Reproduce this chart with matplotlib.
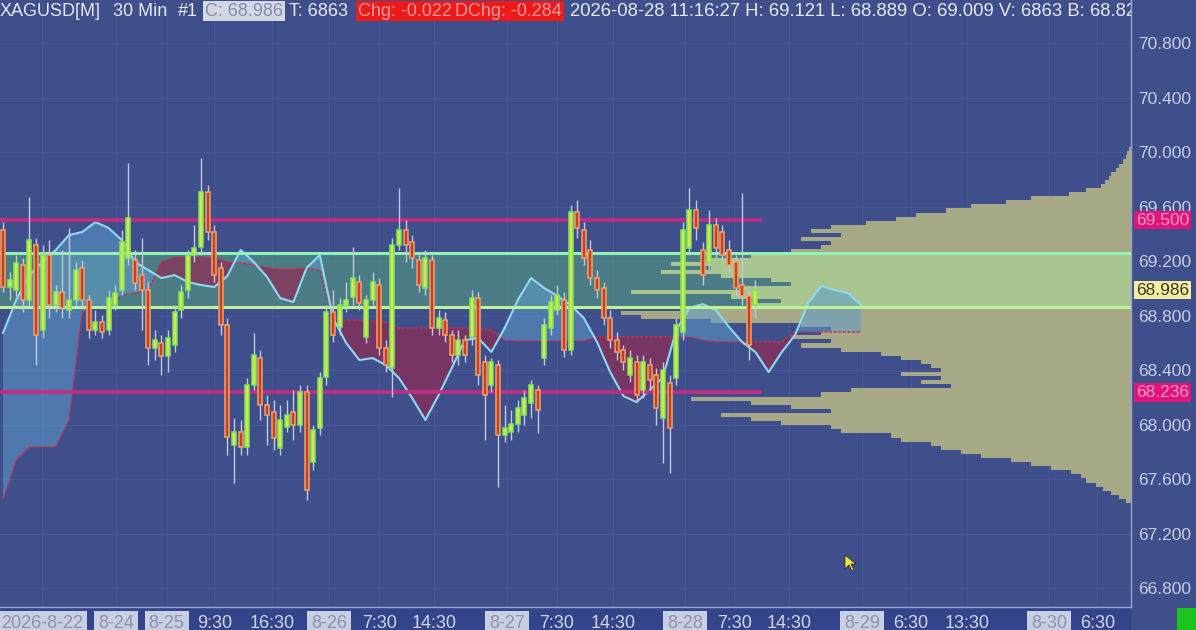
import numpy as np
import matplotlib
matplotlib.use('Agg')
import matplotlib.pyplot as plt
from matplotlib.transforms import blended_transform_factory
from matplotlib.patches import Rectangle, Polygon

plt.rcParams['font.family'] = ['Liberation Sans', 'DejaVu Sans']

W, H = 1196, 630
PLOT_R, PLOT_B = 1131, 607
BG = '#3E4F8C'

# --- 30 min candles XAGUSD (bar index 0..114) ---
opens = [69.428, 69.009, 68.987, 69.171, 68.914, 69.318, 68.694, 69.244, 68.877, 68.972,
         68.840, 68.914, 69.149, 68.914, 68.694, 68.752, 68.694, 68.877, 68.987, 69.222,
         69.207, 69.097, 68.987, 68.562, 68.598, 68.503, 68.584, 68.840, 68.987, 69.244,
         69.303, 69.706, 69.413, 69.149, 68.730, 67.850, 67.945, 67.835, 68.290, 68.488,
         68.143, 68.092, 67.828, 67.982, 68.092, 67.996, 68.238, 67.725, 67.974, 68.348,
         68.826, 68.716, 68.870, 68.936, 69.046, 68.643, 68.914, 69.024, 68.562, 68.415,
         69.318, 69.428, 69.340, 69.207, 69.002, 69.207, 68.708, 68.767, 68.657, 68.510,
         68.620, 68.643, 68.928, 68.459, 68.290, 68.437, 67.923, 67.945, 68.004, 68.070,
         68.158, 68.253, 68.488, 68.708, 68.840, 68.914, 68.547, 69.560, 69.428, 69.281,
         69.075, 69.002, 68.782, 68.620, 68.547, 68.363, 68.459, 68.253, 68.437, 68.363,
         68.048, 68.304, 68.341, 68.679, 69.295, 69.574, 69.281, 69.193, 69.464, 69.413,
         69.281, 69.193, 69.024, 68.943, 68.877]
highs = [69.486, 69.119, 69.244, 69.222, 69.670, 69.369, 69.318, 69.354, 69.024, 69.281,
         69.442, 69.193, 69.207, 68.950, 68.840, 68.804, 68.987, 69.024, 69.428, 69.919,
         69.281, 69.369, 69.046, 68.694, 68.657, 68.694, 68.877, 69.024, 69.281, 69.464,
         69.956, 69.758, 69.464, 69.193, 68.782, 68.048, 68.033, 68.341, 68.672, 68.547,
         68.216, 68.180, 68.143, 68.180, 68.253, 68.290, 68.290, 67.996, 68.385, 68.877,
         68.987, 68.928, 69.046, 69.303, 69.097, 68.950, 69.119, 69.075, 68.620, 69.369,
         69.736, 69.501, 69.391, 69.244, 69.281, 69.244, 68.840, 68.826, 68.694, 68.694,
         68.657, 68.987, 68.972, 68.510, 68.488, 68.473, 68.143, 68.106, 68.180, 68.253,
         68.327, 68.290, 68.782, 68.950, 69.024, 68.972, 69.611, 69.648, 69.486, 69.354,
         69.134, 69.046, 68.840, 68.679, 68.584, 68.547, 68.510, 68.510, 68.488, 68.415,
         68.459, 68.363, 68.782, 69.486, 69.736, 69.648, 69.340, 69.574, 69.516, 69.464,
         69.354, 69.244, 69.699, 68.987, 69.061]
lows = [68.972, 68.914, 68.943, 68.826, 68.877, 68.437, 68.635, 68.782, 68.826, 68.782,
        68.782, 68.877, 68.862, 68.635, 68.657, 68.635, 68.657, 68.840, 68.950, 69.171,
        68.987, 68.694, 68.437, 68.473, 68.363, 68.385, 68.532, 68.782, 68.928, 69.193,
        69.244, 69.354, 69.046, 68.657, 67.776, 67.571, 67.776, 67.776, 68.253, 68.033,
        67.850, 67.813, 67.776, 67.945, 67.886, 67.945, 67.446, 67.666, 67.923, 68.290,
        68.606, 68.657, 68.826, 68.877, 68.840, 68.598, 68.877, 68.510, 68.385, 68.202,
        69.281, 69.193, 69.149, 68.972, 68.950, 68.657, 68.657, 68.606, 68.459, 68.437,
        68.459, 68.584, 68.290, 67.886, 68.238, 67.541, 67.872, 67.886, 67.945, 67.996,
        68.048, 67.938, 68.437, 68.657, 68.804, 68.496, 68.510, 69.369, 69.171, 69.024,
        68.928, 68.730, 68.562, 68.473, 68.400, 68.312, 68.165, 68.194, 68.253, 67.996,
        67.717, 67.644, 68.290, 68.620, 69.244, 69.354, 69.024, 69.134, 69.222, 69.193,
        69.119, 68.950, 68.877, 68.473, 68.782]
closes = [69.009, 69.061, 69.185, 68.914, 69.354, 68.657, 69.244, 68.877, 68.972, 68.855,
          68.914, 69.134, 68.914, 68.694, 68.752, 68.679, 68.928, 68.965, 69.340, 69.516,
          69.039, 68.987, 68.562, 68.620, 68.503, 68.635, 68.826, 68.972, 69.244, 69.295,
          69.706, 69.413, 69.097, 68.730, 67.908, 67.945, 67.835, 68.290, 68.510, 68.143,
          68.070, 67.901, 68.033, 68.070, 67.996, 68.238, 67.519, 67.960, 68.341, 68.826,
          68.657, 68.877, 68.914, 69.075, 68.892, 68.914, 69.046, 68.562, 68.437, 69.318,
          69.428, 69.318, 69.222, 69.024, 69.222, 68.708, 68.782, 68.657, 68.510, 68.620,
          68.510, 68.928, 68.363, 68.216, 68.459, 67.923, 67.974, 68.004, 68.121, 68.194,
          68.290, 68.106, 68.730, 68.899, 68.950, 68.547, 69.560, 69.442, 69.222, 69.075,
          68.987, 68.782, 68.620, 68.532, 68.459, 68.488, 68.216, 68.459, 68.327, 68.121,
          68.400, 67.974, 68.730, 69.428, 69.574, 69.442, 69.097, 69.464, 69.295, 69.244,
          69.171, 69.002, 68.943, 68.584, 68.986]

# --- cloud (sampled every 2 bars, projected ahead) ---
cloud_x = np.arange(0, 131, 2)
span_a = [68.672, 68.914, 69.097, 69.193, 69.281, 69.391, 69.413, 69.486, 69.442, 69.354,
          69.193, 69.134, 69.075, 69.097, 69.046, 69.024, 69.009, 69.090, 69.281, 69.193,
          69.083, 68.928, 68.899, 69.149, 69.244, 68.782, 68.598, 68.473, 68.488, 68.437,
          68.341, 68.194, 68.033, 68.216, 68.415, 68.620, 68.635, 68.532, 68.708, 68.914,
          69.075, 69.002, 68.943, 68.877, 68.782, 68.606, 68.385, 68.209, 68.165, 68.253,
          68.348, 68.694, 68.855, 68.884, 68.840, 68.716, 68.606, 68.532, 68.385, 68.532,
          68.657, 68.892, 69.017, 68.987, 68.965, 68.877]
span_b = [67.446, 67.739, 67.835, 67.835, 67.835, 68.033, 68.826, 68.862, 68.862, 68.950,
          68.965, 68.987, 69.193, 69.229, 69.229, 69.229, 69.222, 69.193, 69.185, 69.171,
          69.149, 69.141, 69.141, 69.149, 69.134, 68.782, 68.767, 68.767, 68.760, 68.752,
          68.708, 68.708, 68.708, 68.708, 68.708, 68.708, 68.701, 68.694, 68.620, 68.613,
          68.613, 68.613, 68.613, 68.613, 68.613, 68.643, 68.643, 68.643, 68.643, 68.643,
          68.643, 68.643, 68.643, 68.620, 68.606, 68.606, 68.606, 68.606, 68.606, 68.606,
          68.679, 68.679, 68.679, 68.679, 68.679, 68.679]

# --- volume profile ---
prof_price = np.round(np.arange(70.02, 67.43, -0.03), 2)
prof_vol = [2, 4, 5, 8, 12, 15, 20, 22, 26, 30, 45, 62, 100, 125, 160, 185, 215, 235, 265, 300,
            320, 290, 330, 300, 310, 340, 380, 420, 460, 420, 470, 410, 360, 340, 390, 500, 400,
            350, 380, 450, 510, 490, 420, 330, 300, 310, 340, 300, 330, 290, 250, 230, 210, 200,
            190, 230, 190, 210, 180, 280, 310, 440, 380, 340, 300, 410, 380, 350, 300, 290, 240,
            230, 200, 190, 170, 150, 120, 100, 80, 60, 50, 45, 35, 28, 20, 12, 5]

va_high, va_low = 69.259, 68.862
res_high, res_low = 69.500, 68.236
last_price = 68.986

y_ticks = [66.8, 67.2, 67.6, 68.0, 68.4, 68.8, 69.2, 69.6, 70.0, 70.4, 70.8]
x_tick_pos = [5.9, 17.1, 24.8, 32.0, 40.8, 49.4, 57.0, 65.3, 76.4, 83.9, 92.4,
              103.3, 110.8, 119.1, 130.2, 137.6, 146.1, 158.5, 165.8]
x_tick_lbl = ['2026-8-22', '8-24', '8-25', '9:30', '16:30', '8-26', '7:30', '14:30',
              '8-27', '7:30', '14:30', '8-28', '7:30', '14:30', '8-29', '6:30', '13:30',
              '8-30', '6:30']

opens, highs, lows, closes = map(np.array, (opens, highs, lows, closes))
span_a, span_b = np.array(span_a), np.array(span_b)

YLIM = (66.661, 71.1156)
XLIM = (-0.4545, 170.909)

fig = plt.figure(figsize=(W / 100, H / 100), dpi=100, facecolor=BG)
rect = [0, (H - PLOT_B) / H, PLOT_R / W, PLOT_B / H]
fx = lambda px: px / W
fy = lambda py: 1 - py / H

# bottom strip
fig.patches.append(Rectangle((0, 0), fx(PLOT_R), (H - PLOT_B) / H, transform=fig.transFigure,
                             fc='#34448A', ec='none', zorder=-5))

# back axes: grid, value area, volume profile
axb = fig.add_axes(rect, facecolor=BG)
axb.set_xlim(PLOT_R, 0)
axb.set_ylim(*YLIM)
for yt in y_ticks:
    axb.axhline(yt, color='#46579A', lw=0.7, zorder=0.5)
axb.axhspan(va_low, va_high, color='#5FBE78', alpha=0.4, lw=0, zorder=1)
in_va = (prof_price >= va_low - 0.01) & (prof_price <= va_high + 0.01)
prof_col = np.where(in_va, '#A9C690', '#A6A886')
axb.barh(prof_price, prof_vol, height=0.031, color=prof_col, lw=0, zorder=2)
axb.axis('off')

# main axes
ax = fig.add_axes(rect)
ax.patch.set_visible(False)
ax.set_xlim(*XLIM)
ax.set_ylim(*YLIM)
vtr = blended_transform_factory(ax.transData, axb.transAxes)
for xt in x_tick_pos:
    axb.plot([xt, xt], [0, 1], transform=vtr, color='#46579A', lw=0.7, zorder=0.5)

ax.fill_between(cloud_x, span_a, span_b, where=span_a >= span_b, interpolate=True,
                color='#5E9CCB', alpha=0.55, lw=0, zorder=1)
ax.fill_between(cloud_x, span_a, span_b, where=span_a < span_b, interpolate=True,
                color='#8E2C55', alpha=0.72, lw=0, zorder=1)
ax.plot(cloud_x, span_b, color='#C23050', lw=1.1, ls=(0, (2, 1)), zorder=2)
ax.plot(cloud_x, span_a, color='#8FDAF2', lw=1.5, zorder=2.2)

n = len(opens)
ax.hlines([res_high, res_low], XLIM[0], n, color='#C42C82', lw=2.6, zorder=3)
ax.axhline(va_high, color='#92F2B6', lw=2.2, zorder=3.5)
ax.axhline(va_low, color='#BEF296', lw=2.2, zorder=3.5)

x = np.arange(n)
bull = closes >= opens
ax.vlines(x, lows, highs, color='#C4C8DC', lw=1, zorder=4)
ax.bar(x[bull], (closes - opens)[bull], bottom=opens[bull], width=0.62,
       color='#E2E04A', edgecolor='#74EE5C', lw=1.1, zorder=5)
ax.bar(x[~bull], (closes - opens)[~bull], bottom=opens[~bull], width=0.62,
       color='#C4431E', edgecolor='#F2A06E', lw=1.1, zorder=5)

# axes styling
for s in ('left', 'top'):
    ax.spines[s].set_visible(False)
for s in ('right', 'bottom'):
    ax.spines[s].set_color('#9AA3CA')
    ax.spines[s].set_linewidth(1)
ax.yaxis.tick_right()
ax.set_yticks(y_ticks)
ax.set_yticklabels([f'{v:.3f}' for v in y_ticks])
ax.tick_params(axis='y', length=0, pad=5, labelsize=12.5, labelcolor='#C9CDE2')
ax.set_xticks(x_tick_pos)
ax.set_xticklabels(x_tick_lbl)
ax.tick_params(axis='x', length=0, pad=6, labelsize=13, labelcolor='#D0D4E6')
for lbl in ax.get_xticklabels():
    if '-' in lbl.get_text():
        lbl.set_color('#8A92B4')
        lbl.set_bbox(dict(boxstyle='square,pad=0.22', fc='#C9CFE2', ec='none'))

# price labels on the right axis
tr = blended_transform_factory(ax.transAxes, ax.transData)
for val, fc, tc in [(res_high, '#E2147C', '#F59AC4'), (res_low, '#E2147C', '#F59AC4'),
                    (last_price, '#F4EEA2', '#3A3A28')]:
    ax.text(1.0045, val, f'{val:.3f}', transform=tr, ha='left', va='center', fontsize=12.5,
            color=tc, zorder=10, clip_on=False,
            bbox=dict(boxstyle='square,pad=0.1', fc=fc, ec='none'))

# header line
hy = fy(11)
hdr = [(0, 'XAGUSD[M]', '#E6E8F2', None), (113, '30 Min', '#E6E8F2', None),
       (178, '#1', '#E6E8F2', None), (205, 'C: 68.986', '#858DAD', '#D4D8E5'),
       (289, 'T: 6863', '#E6E8F2', None), (358, 'Chg: -0.022', '#F29A9A', '#EE1A1A'),
       (455, 'DChg: -0.284', '#F29A9A', '#EE1A1A')]
for px, s, c, fc in hdr:
    kw = {}
    if fc:
        kw['bbox'] = dict(boxstyle='square,pad=0.1', fc=fc, ec='none')
    fig.text(fx(px), hy, s, color=c, fontsize=13, ha='left', va='center', **kw)
t = fig.text(fx(570), hy, '2026-08-28 11:16:27 H: 69.121 L: 68.889 O: 69.009 V: 6863 B: 68.82',
             color='#E6E8F2', fontsize=13.3, ha='left', va='center')
t.set_clip_box(ax.bbox)
t.set_clip_on(True)

# mouse cursor + status box
fig.patches.append(Polygon([(fx(845), fy(555)), (fx(845), fy(569)), (fx(849), fy(565)),
                            (fx(852), fy(571)), (fx(854), fy(570)), (fx(851), fy(564)),
                            (fx(856), fy(564))], closed=True, transform=fig.transFigure,
                           fc='#F2E23C', ec='#202020', lw=0.5, zorder=20))
fig.patches.append(Rectangle((fx(1177), 0), fx(19), (H - 608) / H,
                             transform=fig.transFigure, fc='#1EC41E', ec='none', zorder=5))
fig.text(fx(1186), fy(619), '5', color='#A8F2A8', fontsize=13, ha='center', va='center')

fig.savefig('out.png', dpi=100, facecolor=BG)
